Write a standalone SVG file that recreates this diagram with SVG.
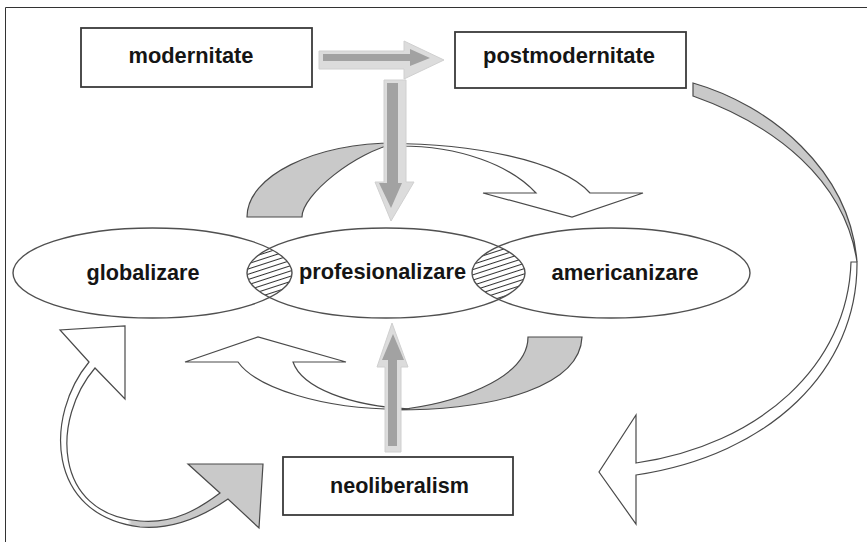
<svg xmlns="http://www.w3.org/2000/svg" width="867" height="542" viewBox="0 0 867 542">
<defs>
<style>
.box{fill:#fff;stroke:#3a3a3a;stroke-width:1.8}
.ell{fill:none;stroke:#505050;stroke-width:1.4}
.lbl{font-family:"Liberation Sans",Arial,sans-serif;font-weight:bold;font-size:21.5px;fill:#151515;text-anchor:middle}
.ol{stroke:#4a4a4a;stroke-width:1.2;stroke-linejoin:miter}
.grayfill{fill:#c9c9c9}
.white{fill:#fff}
.blkO{fill:#dcdcdc;stroke:#d0d0d0;stroke-width:1}
.blkI{fill:#a2a2a2}
</style>
<pattern id="hatch" patternUnits="userSpaceOnUse" width="5" height="5" patternTransform="rotate(-18)">
<rect width="5" height="5" fill="#fff"/>
<line x1="0" y1="2.5" x2="5" y2="2.5" stroke="#333" stroke-width="1"/>
</pattern>
<clipPath id="clipG"><ellipse cx="152.5" cy="273" rx="139.5" ry="45"/></clipPath>
<clipPath id="clipA"><ellipse cx="611" cy="273" rx="139" ry="45"/></clipPath>
<linearGradient id="lg" gradientUnits="userSpaceOnUse" x1="0" y1="0" x2="867" y2="0">
<stop offset="0" stop-color="#fff"/>
<stop offset="0.147" stop-color="#fff"/>
<stop offset="0.152" stop-color="#c9c9c9"/>
<stop offset="1" stop-color="#c9c9c9"/>
</linearGradient>
</defs>
<rect width="867" height="542" fill="#fff"/>
<g id="frame" stroke="#333" stroke-width="1" fill="none">
<line x1="5.5" y1="7.5" x2="867" y2="7.5"/>
<line x1="5.5" y1="7.5" x2="5.5" y2="542"/>
</g>

<g id="lenses">
<ellipse cx="386" cy="273" rx="139" ry="45" fill="url(#hatch)" clip-path="url(#clipG)"/>
<ellipse cx="386" cy="273" rx="139" ry="45" fill="url(#hatch)" clip-path="url(#clipA)"/>
</g>

<g id="globalizare">
<ellipse class="ell" cx="152.5" cy="273" rx="139.5" ry="45"/>
<text class="lbl" x="143" y="280" textLength="113" lengthAdjust="spacingAndGlyphs">globalizare</text>
</g>
<g id="profesionalizare">
<ellipse class="ell" cx="386" cy="273" rx="139" ry="45"/>
<text class="lbl" x="382.5" y="279" textLength="167" lengthAdjust="spacingAndGlyphs">profesionalizare</text>
</g>
<g id="americanizare">
<ellipse class="ell" cx="611" cy="273" rx="139" ry="45"/>
<text class="lbl" x="625" y="280" textLength="147" lengthAdjust="spacingAndGlyphs">americanizare</text>
</g>

<g id="modernitate">
<rect class="box" x="81" y="28" width="231" height="59"/>
<text class="lbl" x="191" y="63" textLength="125" lengthAdjust="spacingAndGlyphs">modernitate</text>
</g>
<g id="postmodernitate">
<rect class="box" x="455" y="32" width="231" height="56"/>
<text class="lbl" x="569" y="63" textLength="172" lengthAdjust="spacingAndGlyphs">postmodernitate</text>
</g>
<g id="neoliberalism">
<rect class="box" x="283" y="457" width="230" height="58"/>
<text class="lbl" x="399.5" y="493" textLength="139" lengthAdjust="spacingAndGlyphs">neoliberalism</text>
</g>

<g id="connectors">
<!-- top curved arrow -->
<path class="grayfill ol" d="M247,217 C247,176 314,143 397,143 C355,152 302,195 302,217 Z"/>
<path class="white ol" d="M385,143.5 C470,143 560,160 590,193 L643,193 L572,217 L483,193 L536,193 C510,165 460,146 400,146 Z"/>
<!-- bottom curved arrow -->
<path class="grayfill ol" d="M528,337 L582,337 C580,385 500,410 395,410 C450,405 528,380 528,337 Z"/>
<path class="white ol" d="M410,409 C320,411 255,386 238,362 L185,362 L258,337 L346,362 L293,362 C302,388 350,406 410,409 Z"/>
<!-- big right curved arrow -->
<path class="grayfill ol" d="M693,83 C770,105 850,170 857,262 C845,180 775,125 693,96 Z"/>
<path class="white ol" d="M857,262 C858,370 770,455 636,475 L636,524 L599,472 L636,415 L636,463 C760,445 848,365 851,262 Z"/>
<!-- bottom-left curved arrow -->
<path class="ol" fill="url(#lg)" d="M89,362 L60,330 L125,326 L125,399 L95,368 C52,418 52,514 140,521 C175,524 200,508 220,493 L188,464 L263,464 L259,528 L228,499 C205,515 175,530 140,527 C45,515 45,415 89,362 Z"/>
<!-- modernitate -> postmodernitate -->
<polygon class="blkO" points="319,51 404,51 404,41 444,60 404,79 404,69 319,69"/>
<polygon class="blkI" points="323,54 410,54 410,49 430,58 410,66 410,61 323,61"/>
<!-- down arrow into profesionalizare -->
<polygon class="blkO" points="384,80 406,80 406,182 414,182 391,221 375,182 384,182"/>
<polygon class="blkI" points="387,83 398,83 398,183 402,183 391,208 379,183 387,183"/>
<!-- up arrow from neoliberalism -->
<polygon class="blkO" points="385,452 401,452 401,367 408,367 392,323 377,367 385,367"/>
<polygon class="blkI" points="388,446 397,446 397,360 404,360 393,334 382,360 388,360"/>
</g>
</svg>
